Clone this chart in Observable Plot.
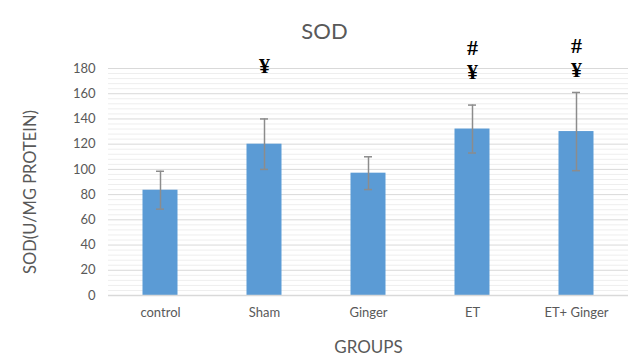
<!DOCTYPE html>
<html><head><meta charset="utf-8">
<script src="https://cdn.jsdelivr.net/npm/d3@7"></script>
<script src="https://cdn.jsdelivr.net/npm/@observablehq/plot@0.6"></script>
<style>
body{margin:0;background:#fff;}
</style></head>
<body><div id="chart"></div>
<script>
const groups = ["control", "Sham", "Ginger", "ET", "ET+ Ginger"];
const means = [83.5, 120, 97, 132, 130];
const errors = [15, 20, 13, 19, 31];
const yTicks = [0, 20, 40, 60, 80, 100, 120, 140, 160, 180];
const minorTicks = d3.range(0, 181, 4).filter(v => v % 20 !== 0);
const markGroups = ["Sham", "ET", "ET", "ET+ Ginger", "ET+ Ginger"];
const markSymbols = ["¥", "#", "¥", "#", "¥"];
const markY = [182, 196, 177, 197.5, 178.5];

const data = groups.map((g, i) => ({g, m: means[i], lo: means[i] - errors[i], hi: means[i] + errors[i]}));
const marks = markGroups.map((g, i) => ({g, s: markSymbols[i], y: markY[i]}));

const chart = Plot.plot({
  width: 628, height: 356,
  marginTop: 68, marginBottom: 61, marginLeft: 108, marginRight: 0,
  style: {fontFamily: "Lato, 'Open Sans', sans-serif", color: "#595959", background: "#fff", overflow: "visible"},
  x: {domain: groups, padding: 0, label: null},
  y: {domain: [0, 180], label: null},
  marks: [
    Plot.ruleY(minorTicks, {stroke: "#eeeeee", strokeWidth: 1}),
    Plot.ruleY(yTicks, {stroke: "#d9d9d9", strokeWidth: 1}),
    Plot.axisY(yTicks, {tickSize: 0, tickPadding: 13, fontSize: 13, fill: "#595959"}),
    Plot.axisX({tickSize: 0, tickPadding: 12, fontSize: 13, fill: "#595959", label: null}),
    Plot.barY(data, {x: "g", y: "m", fill: "#5b9bd5", insetLeft: 34.5, insetRight: 34.5}),
    Plot.ruleX(data, {x: "g", y1: "lo", y2: "hi", stroke: "#8c8c8c", strokeWidth: 1.5}),
    Plot.tickY(data, {x: "g", y: "hi", stroke: "#8c8c8c", strokeWidth: 1.5, insetLeft: 48, insetRight: 48}),
    Plot.tickY(data, {x: "g", y: "lo", stroke: "#8c8c8c", strokeWidth: 1.5, insetLeft: 48, insetRight: 48}),
    Plot.text(marks, {x: "g", y: "y", text: "s", fontFamily: "'Liberation Serif', 'DejaVu Serif', serif", fontWeight: "bold", fontSize: 22, fill: "#000"}),
    Plot.text(["SOD(U/MG PROTEIN)"], {frameAnchor: "left", textAnchor: "middle", dx: -78, dy: 10, rotate: -90, fontSize: 16.5, fill: "#595959"}),
    Plot.text(["GROUPS"], {frameAnchor: "bottom", dy: 57, fontSize: 17, fill: "#595959"}),
    Plot.text(["SOD"], {frameAnchor: "top", dx: -44, dy: -45, fontSize: 22, fill: "#595959"}),
    Plot.ruleY([0], {stroke: "#d9d9d9", strokeWidth: 1.5})
  ]
});
document.getElementById("chart").appendChild(chart);
</script></body></html>
